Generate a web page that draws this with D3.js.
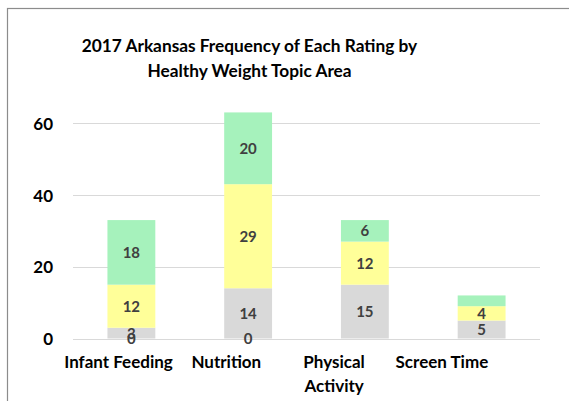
<!DOCTYPE html>
<html><head><meta charset="utf-8">
<script src="https://cdn.jsdelivr.net/npm/d3@7"></script>
<style>body{margin:0;background:#fff}svg{display:block}text{font-family:Lato,"Open Sans",sans-serif;font-weight:bold}</style>
</head><body><svg id="c" width="569" height="401"></svg>
<script>
const categories = ["Infant Feeding", "Nutrition", "Physical Activity", "Screen Time"];
const seriesNames = ["None", "Rating 1", "Rating 2", "Rating 3"];
const noneValues = [0, 0, null, null];
const greyValues = [3, 14, 15, 5];
const yellowValues = [12, 29, 12, 4];
const greenValues = [18, 20, 6, 3];
const greenLabelShown = [true, true, true, false];
const yTicks = [0, 20, 40, 60];
const titleLines = ["2017 Arkansas Frequency of Each Rating by", "Healthy Weight Topic Area"];
const colors = ["#C0504D", "#D9D9D9", "#FFFF99", "#A6F2BC"];

const svg = d3.select("#c");
svg.append("rect").attr("x", 7.5).attr("y", 8.5).attr("width", 600).attr("height", 500)
  .attr("fill", "#fff").attr("stroke", "#8c8c8c").attr("stroke-width", 1.2);

const x = d3.scaleBand().domain(categories).range([73, 540]).paddingInner(0.59).paddingOuter(0.295);
const xLabel = d3.scaleBand().domain(categories).range([64.6, 495.8]);
const y = d3.scaleLinear().domain([0, 70]).range([338.5, 87.3]);

const g = svg.append("g");
g.selectAll("line.grid").data(yTicks).join("line")
  .attr("x1", 73).attr("x2", 540).attr("y1", d => Math.round(y(d)) + 0.5).attr("y2", d => Math.round(y(d)) + 0.5)
  .attr("stroke", "#d9d9d9").attr("stroke-width", 1);

const yAxis = d3.axisLeft(y).tickValues(yTicks).tickSize(0).tickPadding(0);
const ya = svg.append("g").attr("transform", "translate(53,0)").call(yAxis);
ya.select(".domain").remove();
ya.selectAll("text").attr("font-size", 17).attr("fill", "#000").attr("font-family", "Lato").attr("font-weight", "bold").attr("dy", "0.36em");

const seriesValues = [noneValues, greyValues, yellowValues, greenValues];
const rows = categories.map((c, i) => {
  const r = {cat: c, i};
  seriesNames.forEach((s, k) => r[s] = seriesValues[k][i] == null ? 0 : seriesValues[k][i]);
  return r;
});
const stack = d3.stack().keys(seriesNames)(rows);

stack.forEach((layer, k) => {
  g.selectAll("rect.s" + k).data(layer).join("rect")
    .attr("x", d => x(d.data.cat)).attr("width", x.bandwidth())
    .attr("y", d => y(d[1])).attr("height", d => y(d[0]) - y(d[1]))
    .attr("fill", colors[k]);
});
stack.forEach((layer, k) => {
  g.selectAll("text.l" + k).data(layer.filter(d => {
      const v = seriesValues[k][d.data.i];
      if (v == null) return false;
      if (k === 3 && !greenLabelShown[d.data.i]) return false;
      return true;
    })).join("text")
    .attr("x", d => x(d.data.cat) + x.bandwidth() / 2)
    .attr("y", d => y((d[0] + d[1]) / 2))
    .attr("dy", "0.36em").attr("text-anchor", "middle")
    .attr("font-size", 15).attr("fill", "#404040")
    .text(d => seriesValues[k][d.data.i]);
});

const xAxis = d3.axisBottom(xLabel).tickSize(0).tickPadding(0);
const xa = svg.append("g").attr("transform", "translate(0,356)").call(xAxis);
xa.select(".domain").remove();
xa.selectAll(".tick text").attr("font-size", 17).attr("fill", "#000").attr("font-family", "Lato").attr("font-weight", "bold")
  .each(function(d) {
    const t = d3.select(this); t.text(null);
    const words = d === "Physical Activity" ? ["Physical", "Activity"] : [d];
    words.forEach((w, j) => t.append("tspan").attr("x", 0).attr("dy", j === 0 ? "0.71em" : "1.41em").text(w));
  });

svg.append("text").attr("x", 249.5).attr("y", 52).attr("text-anchor", "middle").attr("font-size", 17.3).attr("fill", "#000")
  .selectAll("tspan").data(titleLines).join("tspan").attr("x", 249.5).attr("dy", (d, i) => i ? 25 : 0).text(d => d);
</script></body></html>
